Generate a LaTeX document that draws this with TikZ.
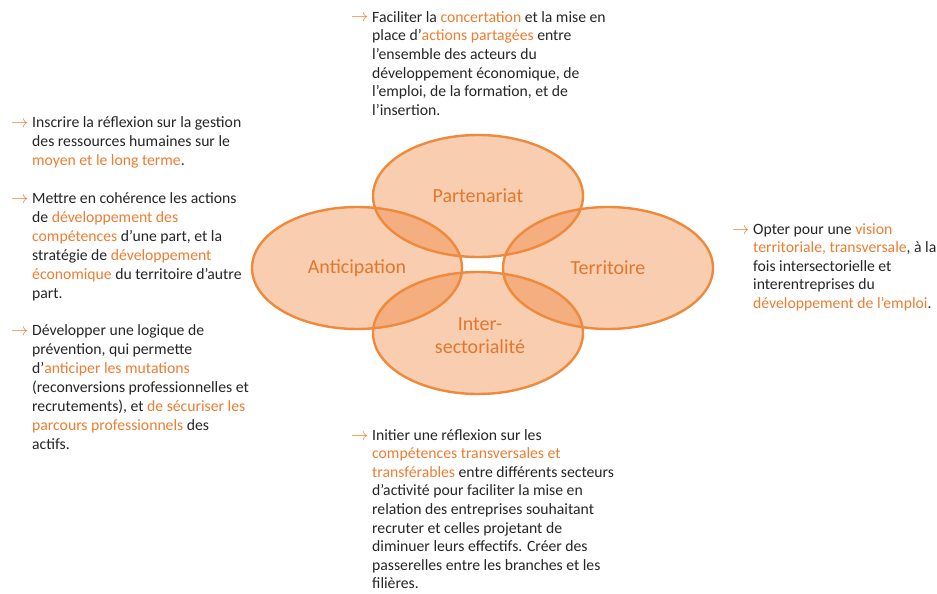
\documentclass[tikz,border=0pt]{standalone}
\usepackage{fontspec}
\setmainfont{Carlito}
\usetikzlibrary{shapes.geometric}
\definecolor{orng}{HTML}{EE7D31}
\definecolor{ostroke}{HTML}{EF8A3C}
\definecolor{olabel}{HTML}{E2772E}
\definecolor{ink}{HTML}{262626}
\newcommand{\hl}[1]{\textcolor{orng}{#1}}
\tikzset{
  circ/.style={ellipse, minimum width=210pt, minimum height=122pt, inner sep=0pt,
    fill=orng, fill opacity=0.38, text opacity=1, text=olabel,
    font=\fontsize{20}{23}\selectfont, align=center},
  outline/.style={draw=ostroke, line width=2.4pt},
  para/.style={anchor=base west, inner sep=0pt, align=left, text=ink,
    font=\fontsize{15.7}{18.7}\selectfont},
  arr/.style={anchor=base west, inner sep=0pt, text=orng, font=\fontsize{17}{18}\selectfont}
}
\begin{document}
\begin{tikzpicture}[x=1pt,y=-1pt]
\useasboundingbox[fill=white] (0,0) rectangle (937,594);
% ellipses (fill + labels)
\node[circ] (part) at (478,196) {Partenariat};
\node[circ] (anti) at (357,268) {Anticipation};
\node[circ] (terr) at (608,268) {Territoire};
\node[circ] (inter) at (478,333) {};
\node[text=olabel, font=\fontsize{20}{23}\selectfont, align=center, inner sep=0pt] (interlbl) at (480,336) {Inter-\\sectorialité};
% outlines
\foreach \n in {part,anti,terr,inter}{
  \draw[outline] (\n.center) ellipse [x radius=105pt, y radius=61pt];
}
% top block (anchor = baseline of last line)
\node[arr] (a1) at (351,22) {$\rightarrow$};
\node[para] (t1) at (372,115.5) {Faciliter la \hl{concertation} et la mise en\\
place d’\hl{actions partagées} entre\\
l’ensemble des acteurs du\\
développement économique, de\\
l’emploi, de la formation, et de\\
l’insertion.};
% left block
\node[arr] (a2) at (11,127) {$\rightarrow$};
\node[para, font=\fontsize{15.7}{19}\selectfont] (l1) at (32,165) {Inscrire la réflexion sur la gestion\\
des ressources humaines sur le\\
\hl{moyen et le long terme}.};
\node[arr] (a3) at (11,203) {$\rightarrow$};
\node[para, font=\fontsize{15.7}{19}\selectfont] (l2) at (32,298) {Mettre en cohérence les actions\\
de \hl{développement des}\\
\hl{compétences} d’une part, et la\\
stratégie de \hl{développement}\\
\hl{économique} du territoire d’autre\\
part.};
\node[arr] (a4) at (11,335) {$\rightarrow$};
\node[para, font=\fontsize{15.7}{19}\selectfont] (l3) at (32,449) {Développer une logique de\\
prévention, qui permette\\
d’\hl{anticiper les mutations}\\
(reconversions professionnelles et\\
recrutements), et \hl{de sécuriser les}\\
\hl{parcours professionnels} des\\
actifs.};
% right block
\node[arr] (a5) at (732,234) {$\rightarrow$};
\node[para, font=\fontsize{15.7}{18.6}\selectfont] (r1) at (753,308.4) {Opter pour une \hl{vision}\\
\hl{territoriale, transversale}, à la\\
fois intersectorielle et\\
interentreprises du\\
\hl{développement de l’emploi}.};
% bottom block
\node[arr] (a6) at (351,440) {$\rightarrow$};
\node[para, font=\fontsize{15.7}{18.6}\selectfont] (b1) at (372,588.8) {Initier une réflexion sur les\\
\hl{compétences transversales et}\\
\hl{transférables} entre différents secteurs\\
d’activité pour faciliter la mise en\\
relation des entreprises souhaitant\\
recruter et celles projetant de\\
diminuer leurs effectifs. Créer des\\
passerelles entre les branches et les\\
filières.};
\end{tikzpicture}
\end{document}
